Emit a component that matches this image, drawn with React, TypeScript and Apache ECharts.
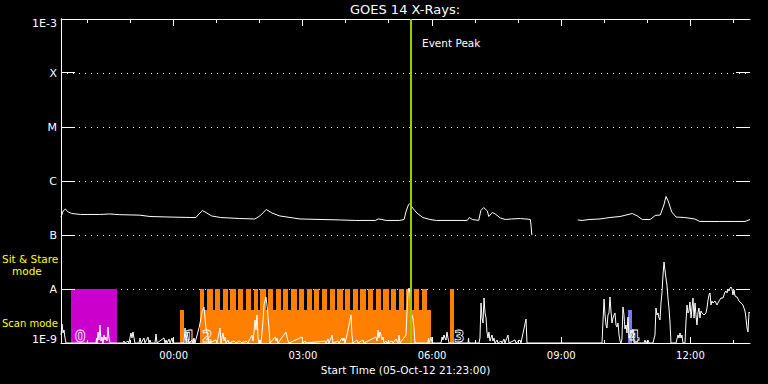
import React, { useEffect, useRef } from 'react';
import * as echarts from 'echarts';

const TITLE = 'GOES 14 X-Rays:';
const X_NAME = 'Start Time (05-Oct-12 21:23:00)';
const EVENT_LABEL = 'Event Peak';
const START_MIN_OF_DAY = 21 * 60 + 23; // 21:23
const SPAN_MIN = 960; // 16 hours shown

// x ticks (minutes since start)
const hourTicks = [37, 97, 157, 217, 277, 337, 397, 457, 517, 577, 637, 697, 757, 817, 877, 937];
const majorTicks = [157, 337, 517, 697, 877];

// flux class labels
const classValues = [1e-3, 1e-4, 1e-5, 1e-6, 1e-7, 1e-8, 1e-9];
const classNames = ['1E-3', 'X', 'M', 'C', 'B', 'A', '1E-9'];

// GOES 14 long channel flux (W/m^2), minutes since start
const goesTimes = [0, 3, 6, 10, 15, 27, 54, 68, 82, 110, 124, 152, 180, 188, 191, 197, 202, 210, 222, 249, 270, 277, 286, 294, 305, 333, 361, 389, 410, 438, 442, 447, 453, 472, 478, 481, 484, 486, 490, 496, 504, 514, 523, 556, 566, 569, 573, 582, 585, 589, 594, 596, 601, 605, 612, 619, 628, 640, 654, 655, 656, 690, 720, 726, 737, 751, 765, 779, 796, 803, 810, 821, 828, 835, 840, 843, 846, 851, 857, 869, 883, 890, 918, 939, 953, 960];
const goesFlux = [2.15e-7, 2.78e-7, 3.03e-7, 2.67e-7, 2.5e-7, 2.4e-7, 2.4e-7, 2.45e-7, 2.38e-7, 2.33e-7, 2.2e-7, 2.15e-7, 2.11e-7, 2.11e-7, 2.35e-7, 2.84e-7, 2.61e-7, 2.25e-7, 2.11e-7, 2.02e-7, 1.98e-7, 2.25e-7, 2.97e-7, 2.55e-7, 2.25e-7, 1.98e-7, 1.94e-7, 1.9e-7, 1.86e-7, 1.86e-7, 1.98e-7, 1.94e-7, 1.86e-7, 1.86e-7, 1.94e-7, 2.78e-7, 3.59e-7, 3.83e-7, 3.16e-7, 2.55e-7, 2.11e-7, 1.94e-7, 1.86e-7, 1.86e-7, 1.86e-7, 2.11e-7, 1.94e-7, 1.86e-7, 2.84e-7, 3.23e-7, 2.78e-7, 2.2e-7, 2.61e-7, 2.45e-7, 2.07e-7, 1.94e-7, 1.98e-7, 2.02e-7, 1.94e-7, 1.47e-7, 1.0e-7, null, 1.9e-7, 1.86e-7, 1.94e-7, 1.98e-7, 2.11e-7, 2.2e-7, 2.5e-7, 2.25e-7, 1.94e-7, 1.94e-7, 2.3e-7, 2.35e-7, 3.59e-7, 5.16e-7, 4.26e-7, 2.67e-7, 2.15e-7, 2.11e-7, 1.98e-7, 1.78e-7, 1.78e-7, 1.78e-7, 1.78e-7, 1.94e-7];

// hard X-ray count rate (arbitrary counts), minutes since start
const countTimes = [0, 1.4, 2.8, 4.2, 5.6, 7.0, 48.8, 49.5, 50.2, 51.6, 52.9, 54.3, 55.7, 57.1, 58.5, 59.9, 61.3, 62.7, 64.1, 65.5, 66.9, 68.3, 86.4, 87.8, 89.2, 93.4, 94.7, 97.5, 98.9, 100.3, 101.7, 103.1, 108.7, 110.1, 111.5, 115.6, 117.0, 121.2, 122.6, 124.0, 125.4, 131.0, 132.4, 133.8, 143.5, 144.9, 146.3, 147.7, 150.5, 151.9, 154.7, 156.0, 171.4, 172.8, 174.2, 175.6, 176.9, 178.3, 182.5, 183.9, 185.3, 186.7, 192.3, 195.1, 196.5, 199.2, 200.6, 202.0, 204.8, 206.2, 216.0, 217.4, 221.5, 222.9, 225.7, 227.1, 228.5, 229.9, 232.7, 234.1, 241.0, 243.8, 249.4, 252.2, 257.8, 260.5, 266.1, 267.5, 268.9, 270.3, 271.7, 273.1, 274.5, 275.9, 277.3, 278.7, 281.4, 282.8, 285.6, 287.0, 288.4, 289.8, 291.2, 298.2, 299.6, 301.0, 302.3, 313.5, 314.9, 316.3, 317.7, 335.8, 337.2, 340.0, 341.4, 367.8, 369.2, 372.0, 373.4, 376.2, 377.6, 379.0, 385.9, 387.3, 391.5, 392.9, 394.3, 395.7, 398.5, 401.3, 404.1, 405.4, 406.8, 412.4, 413.8, 420.8, 422.2, 438.9, 440.3, 441.7, 443.1, 444.5, 445.9, 447.3, 448.6, 450.0, 452.8, 454.2, 461.2, 462.6, 466.8, 469.5, 470.9, 472.3, 480.7, 482.1, 483.5, 484.9, 486.3, 487.7, 489.0, 490.4, 491.8, 493.2, 511.3, 512.0, 512.7, 515.5, 516.9, 529.5, 530.9, 532.2, 533.6, 535.0, 536.4, 537.8, 539.2, 540.6, 567.1, 567.8, 568.5, 582.4, 583.8, 585.2, 586.6, 588.0, 589.4, 590.8, 592.2, 593.5, 594.9, 596.3, 597.7, 599.1, 600.5, 601.9, 603.3, 604.7, 607.5, 608.9, 613.1, 614.5, 617.2, 618.6, 622.8, 624.2, 632.6, 634.0, 639.5, 640.9, 647.9, 649.3, 753.8, 756.6, 758.0, 759.4, 760.7, 762.1, 763.5, 764.9, 766.3, 767.7, 769.1, 770.5, 771.9, 773.3, 774.7, 776.1, 777.5, 778.9, 780.3, 781.6, 783.0, 784.4, 785.8, 787.2, 788.6, 790.0, 791.4, 792.8, 794.2, 795.6, 797.0, 798.4, 812.3, 813.7, 815.1, 817.9, 819.3, 824.8, 827.6, 829.0, 830.4, 831.8, 833.2, 834.6, 836.0, 837.4, 838.8, 840.2, 841.5, 842.9, 844.3, 845.7, 847.1, 848.5, 849.9, 856.9, 859.7, 861.1, 862.5, 863.9, 865.2, 866.6, 869.4, 870.8, 872.2, 873.6, 875.0, 876.4, 877.8, 879.2, 880.6, 882.0, 883.4, 884.7, 886.1, 887.5, 888.9, 890.3, 891.7, 893.1, 895.9, 898.7, 900.1, 901.5, 902.9, 904.3, 905.6, 907.0, 908.4, 911.2, 914.0, 916.8, 919.6, 922.4, 925.2, 926.5, 927.9, 929.3, 930.7, 932.1, 933.5, 934.9, 936.3, 937.7, 939.1, 941.9, 944.7, 947.4, 950.2, 953.0, 954.4, 955.8, 957.2, 958.6, 960];
const countValues = [80, 190, 100, 130, 50, 0, 0, 50, 0, 110, 30, 180, 20, 60, 0, 80, 30, 60, 20, 160, 50, 0, 0, 20, 0, 20, 0, 100, 50, 110, 50, 0, 0, 50, 0, 50, 0, 60, 0, 30, 0, 0, 90, 0, 50, 0, 30, 0, 40, 0, 50, 0, 0, 150, 0, 110, 50, 0, 30, 0, 50, 0, 150, 250, 310, 360, 260, 150, 60, 0, 30, 0, 150, 0, 100, 20, 60, 0, 30, 0, 20, 0, 20, 0, 20, 0, 80, 20, 110, 230, 130, 280, 50, 0, 30, 0, 210, 380, 460, 380, 260, 150, 0, 60, 20, 50, 0, 110, 60, 20, 0, 60, 0, 20, 0, 20, 0, 40, 0, 50, 80, 0, 20, 0, 50, 20, 50, 0, 80, 180, 280, 80, 0, 30, 0, 30, 0, 60, 20, 130, 50, 110, 80, 30, 60, 0, 20, 0, 20, 0, 40, 0, 80, 0, 80, 310, 510, 550, 500, 300, 280, 250, 150, 0, 0, 50, 0, 60, 0, 0, 60, 30, 80, 50, 30, 110, 50, 0, 0, 50, 0, 0, 50, 400, 250, 200, 450, 300, 250, 110, 50, 110, 20, 50, 80, 20, 50, 0, 30, 0, 20, 0, 40, 0, 80, 0, 30, 0, 30, 0, 240, 0, 0, 440, 280, 180, 150, 280, 300, 460, 320, 200, 250, 280, 300, 180, 160, 200, 80, 20, 0, 40, 360, 280, 140, 180, 100, 260, 50, 80, 130, 100, 140, 0, 0, 30, 0, 30, 0, 0, 80, 350, 280, 300, 250, 230, 400, 510, 680, 810, 730, 650, 580, 450, 350, 210, 0, 0, 80, 50, 100, 50, 80, 0, 0, 210, 380, 300, 320, 410, 250, 350, 450, 250, 400, 280, 180, 300, 350, 250, 320, 300, 280, 300, 350, 430, 480, 500, 380, 420, 400, 420, 380, 420, 450, 450, 510, 520, 500, 540, 520, 550, 560, 540, 480, 530, 470, 460, 420, 400, 380, 320, 250, 150, 110, 310, 300];

// observing mode intervals [start, end] (minutes since start)
const SIT_STARE_LEVEL = 1e-8;
const SCAN_LEVEL = 4.1e-9;
const magentaSitStare = [[13.9, 78.0]];
const orangeScan = [[165.8, 171.4], [193.7, 515.5]];
const orangeSitStareStarts = [193.7, 203.4, 214.6, 225.3, 235.9, 247.0, 257.8, 268.5, 277.3, 288.0, 299.1, 309.7, 320.5, 331.6, 342.3, 352.9, 363.2, 374.4, 385.0, 395.7, 406.4, 417.0, 427.7, 438.5, 449.1, 459.8, 470.5, 481.1, 491.8, 502.6, 542.0];
const orangeSitStareEnds = [199.7, 211.4, 222.0, 232.3, 243.4, 254.0, 264.7, 274.1, 285.2, 295.8, 306.5, 316.7, 328.4, 339.0, 349.3, 359.9, 371.0, 381.3, 392.5, 403.1, 413.4, 424.5, 435.1, 445.9, 456.6, 466.8, 477.9, 488.6, 499.2, 510.4, 547.6];
const blueScan = [[790.0, 795.6]];
const modeColors = ['#cc00cc', '#ff8000', '#7878ff'];

// study numbers
const studyTimes = [16.7, 170.0, 193.7, 544.8, 789.0];
const studyIds = ['0', '1', '2', '3', '4'];

const eventTime = 487; // 05:30

const FONT = 'DejaVu Sans';
const pad = (n: number) => (n < 10 ? '0' : '') + n;
const fmtTime = (v: number) => {
  const m = Math.round(START_MIN_OF_DAY + v);
  return pad(Math.floor(m / 60) % 24) + ':' + pad(m % 60);
};

export default function App() {
  const ref = useRef<HTMLDivElement>(null);
  useEffect(() => {
    const chart = echarts.init(ref.current!, null, { renderer: 'svg' });

    const modeItems: number[][] = [
      ...magentaSitStare.map(([s, e]) => [s, e, SIT_STARE_LEVEL, 0]),
      ...orangeScan.map(([s, e]) => [s, e, SCAN_LEVEL, 1]),
      ...orangeSitStareStarts.map((s, i) => [s, orangeSitStareEnds[i], SIT_STARE_LEVEL, 1]),
      ...blueScan.map(([s, e]) => [s, e, SCAN_LEVEL, 2]),
    ];

    // time tick items: [t, y, major?]
    const timeTickItems: number[][] = [
      ...majorTicks.map((t) => [t, 1e-9, 1]),
      ...hourTicks.map((t) => [t, 1e-9, 0]),
    ];
    // flux decade items: [x, flux, index]
    const decadeItems: number[][] = classValues.map((v, i) => [0, v, i]);

    const xBase: any = { type: 'value', min: 0, max: SPAN_MIN, splitLine: { show: false } };
    const white = { color: '#fff', width: 1 };

    const option: any = {
      animation: false,
      backgroundColor: '#000',
      grid: { left: 61, top: 19, right: 18, bottom: 41, containLabel: false },
      xAxis: [
        {
          ...xBase,
          position: 'bottom',
          axisLine: { show: true, lineStyle: white },
          axisTick: { show: false },
          axisLabel: { show: true, customValues: majorTicks, formatter: fmtTime, color: '#fff', fontFamily: FONT, fontSize: 10, margin: 7 },
          name: X_NAME,
          nameLocation: 'middle',
          nameGap: 19,
          nameTextStyle: { color: '#fff', fontFamily: FONT, fontSize: 10.5 },
        },
        {
          ...xBase,
          position: 'top',
          axisLine: { show: true, lineStyle: white },
          axisTick: { show: false },
          axisLabel: { show: false },
        },
      ],
      yAxis: [
        {
          type: 'log',
          logBase: 10,
          min: 1e-9,
          max: 1e-3,
          position: 'left',
          axisLine: { show: true, lineStyle: white },
          axisTick: { show: false },
          axisLabel: { show: false },
          splitLine: { show: true, lineStyle: { color: '#fff', width: 1, type: [1, 5] } },
        },
        {
          type: 'log',
          logBase: 10,
          min: 1e-9,
          max: 1e-3,
          position: 'right',
          axisLine: { show: true, lineStyle: white },
          axisTick: { show: false },
          axisLabel: { show: false },
          splitLine: { show: false },
        },
        { type: 'value', min: 0, max: 3240, show: false, splitLine: { show: false } },
      ],
      graphic: [
        { type: 'text', x: 405, y: 9.5, style: { text: TITLE, fill: '#fff', font: `13px "${FONT}"`, textAlign: 'center', textVerticalAlign: 'middle' } },
        { type: 'text', x: 2, y: 259, style: { text: 'Sit & Stare', fill: '#ffff00', font: `10.5px "${FONT}"`, textVerticalAlign: 'middle' } },
        { type: 'text', x: 12, y: 271, style: { text: 'mode', fill: '#ffff00', font: `10.5px "${FONT}"`, textVerticalAlign: 'middle' } },
        { type: 'text', x: 2, y: 323.5, style: { text: 'Scan mode', fill: '#ffff00', font: `10px "${FONT}"`, textVerticalAlign: 'middle' } },
      ],
      series: [
        {
          type: 'custom',
          xAxisIndex: 0,
          yAxisIndex: 0,
          z: 1,
          encode: { x: [0, 1], y: 2 },
          data: modeItems,
          renderItem: (params: any, api: any) => {
            const p0 = api.coord([api.value(0), api.value(2)]);
            const p1 = api.coord([api.value(1), 1e-9]);
            const x0 = Math.round(p0[0]);
            const x1 = Math.round(p1[0]);
            const y0 = Math.round(p0[1]);
            const y1 = Math.round(p1[1]);
            return {
              type: 'rect',
              shape: { x: x0, y: y0, width: Math.max(1, x1 - x0), height: y1 - y0 },
              style: { fill: modeColors[api.value(3)] },
            };
          },
        },
        {
          type: 'line',
          xAxisIndex: 0,
          yAxisIndex: 2,
          z: 2,
          symbol: 'none',
          showSymbol: false,
          lineStyle: { color: '#fff', width: 1 },
          data: countTimes.map((t, i) => [t, countValues[i]]),
        },
        {
          type: 'line',
          xAxisIndex: 0,
          yAxisIndex: 0,
          z: 3,
          symbol: 'none',
          showSymbol: false,
          connectNulls: false,
          lineStyle: { color: '#fff', width: 1 },
          data: goesTimes.map((t, i) => [t, goesFlux[i] == null ? '-' : goesFlux[i]]),
        },
        {
          type: 'custom',
          xAxisIndex: 0,
          yAxisIndex: 0,
          z: 4,
          encode: { x: 0, y: 1 },
          data: studyTimes.map((t, i) => [t, 1e-9, i]),
          renderItem: (params: any, api: any) => {
            const p = api.coord([api.value(0), 1e-9]);
            return {
              type: 'text',
              x: p[0] + 2,
              y: p[1] + 1,
              style: {
                text: studyIds[api.value(2)],
                fill: 'none',
                stroke: '#fff',
                lineWidth: 0.8,
                font: `bold 15px "${FONT}"`,
                textAlign: 'left',
                textVerticalAlign: 'bottom',
              },
            };
          },
        },
        {
          type: 'custom',
          xAxisIndex: 0,
          yAxisIndex: 0,
          z: 5,
          encode: { x: 0, y: 1 },
          data: [[eventTime, 1e-3]],
          renderItem: (params: any, api: any) => {
            const top = api.coord([api.value(0), 1e-3]);
            const bot = api.coord([api.value(0), 1e-9]);
            const x = Math.round(top[0]);
            return {
              type: 'group',
              children: [
                { type: 'line', shape: { x1: x, y1: top[1], x2: x, y2: bot[1] }, style: { stroke: '#99cc00', lineWidth: 2 } },
                { type: 'text', x: x + 11, y: top[1] + 24, style: { text: EVENT_LABEL, fill: '#fff', font: `10.5px "${FONT}"`, textVerticalAlign: 'middle' } },
              ],
            };
          },
        },
        {
          type: 'custom',
          name: 'timeTicks',
          xAxisIndex: 0,
          yAxisIndex: 0,
          z: 6,
          clip: false,
          encode: { x: 0, y: 1 },
          data: timeTickItems,
          renderItem: (params: any, api: any) => {
            const t = api.value(0);
            const major = api.value(2) === 1;
            const b = api.coord([t, 1e-9]);
            const tp = api.coord([t, 1e-3]);
            const x = Math.floor(b[0]);
            const lenB = major ? 6 : 3;
            const lenT = major ? 7 : 4;
            return {
              type: 'group',
              children: [
                { type: 'rect', shape: { x: x, y: Math.round(b[1]) - lenB, width: 1, height: lenB }, style: { fill: '#ffffff' } },
                { type: 'rect', shape: { x: x, y: Math.round(tp[1]), width: 1, height: lenT }, style: { fill: '#ffffff' } },
              ],
            };
          },
        },
        {
          type: 'custom',
          name: 'decades',
          xAxisIndex: 0,
          yAxisIndex: 0,
          z: 6,
          clip: false,
          encode: { x: 0, y: 1 },
          data: decadeItems,
          renderItem: (params: any, api: any) => {
            const v = api.value(1);
            const idx = api.value(2);
            const l = api.coord([0, v]);
            const r = api.coord([SPAN_MIN, v]);
            const y = Math.floor(l[1]);
            let ty = l[1];
            if (idx === 0) ty += 4;
            if (idx === classValues.length - 1) ty -= 3.5;
            return {
              type: 'group',
              children: [
                { type: 'rect', shape: { x: Math.round(l[0]), y: y, width: 14, height: 1 }, style: { fill: '#ffffff' } },
                { type: 'rect', shape: { x: Math.round(r[0]) - 14, y: y, width: 14, height: 1 }, style: { fill: '#ffffff' } },
                {
                  type: 'text',
                  x: l[0] - 4,
                  y: ty,
                  style: { text: classNames[idx], fill: '#fff', font: `11px "${FONT}"`, textAlign: 'right', textVerticalAlign: 'middle' },
                },
              ],
            };
          },
        },
      ],
    };

    chart.setOption(option);
    return () => chart.dispose();
  }, []);

  return (
    <div
      ref={ref}
      style={{ position: 'fixed', left: 0, top: 0, width: 768, height: 384, background: '#000' }}
    />
  );
}
